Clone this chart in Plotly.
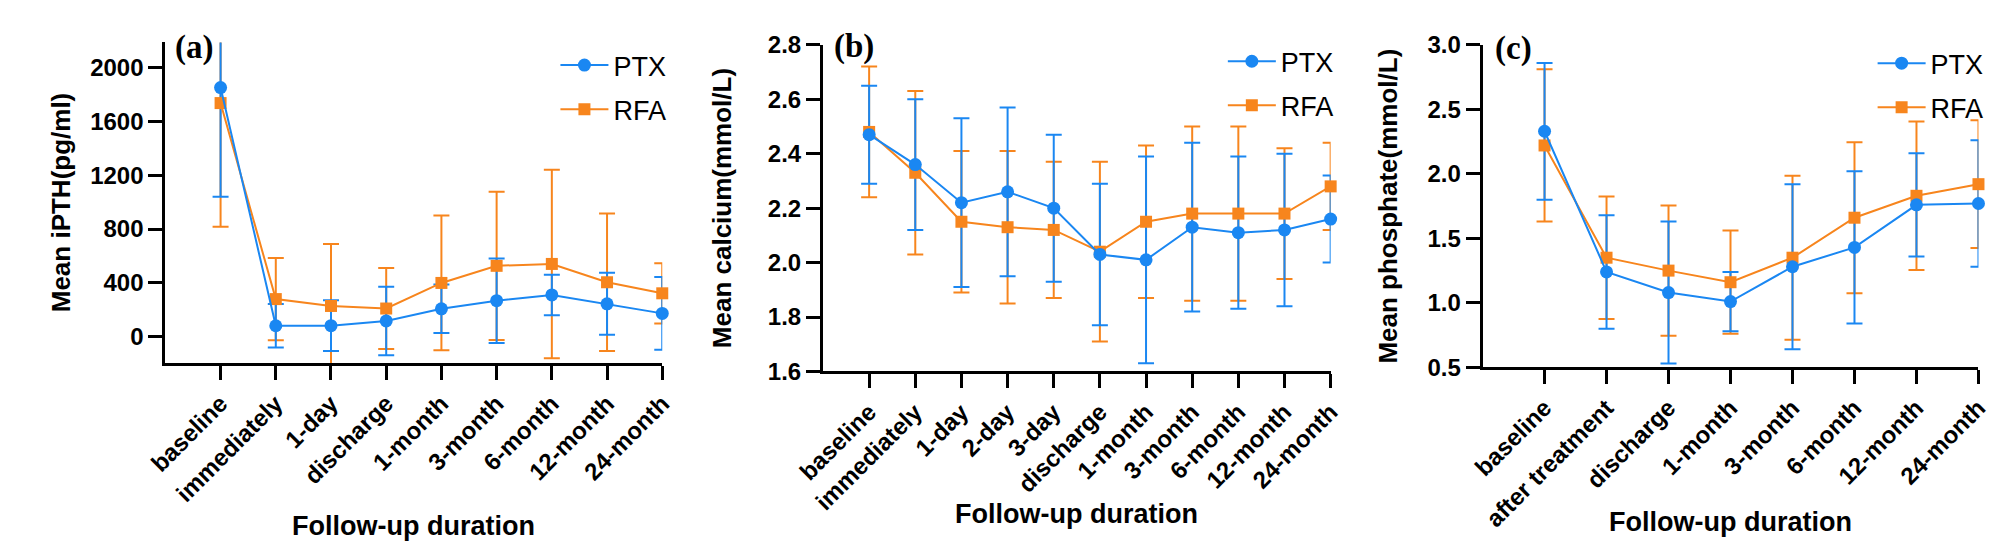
import plotly.graph_objects as go

# ---------------- data ----------------
cats_a = ["baseline", "immediately", "1-day", "discharge", "1-month", "3-month",
          "6-month", "12-month", "24-month"]
ptx_a = [1850, 82, 83, 118, 208, 268, 311, 245, 174]
ptx_a_sd = [810, 162, 188, 254, 180, 314, 150, 230, 270]
rfa_a = [1735, 280, 229, 210, 400, 527, 541, 405, 323]
rfa_a_sd = [918, 305, 460, 300, 500, 550, 700, 510, 224]
yticks_a = [0, 400, 800, 1200, 1600, 2000]

cats_b = ["baseline", "immediately", "1-day", "2-day", "3-day", "discharge",
          "1-month", "3-month", "6-month", "12-month", "24-month"]
ptx_b = [2.47, 2.36, 2.22, 2.26, 2.20, 2.03, 2.01, 2.13, 2.11, 2.12, 2.16]
ptx_b_sd = [0.18, 0.24, 0.31, 0.31, 0.27, 0.26, 0.38, 0.31, 0.28, 0.28, 0.16]
rfa_b = [2.48, 2.33, 2.15, 2.13, 2.12, 2.04, 2.15, 2.18, 2.18, 2.18, 2.28]
rfa_b_sd = [0.24, 0.30, 0.26, 0.28, 0.25, 0.33, 0.28, 0.32, 0.32, 0.24, 0.16]
yticks_b = [1.6, 1.8, 2.0, 2.2, 2.4, 2.6, 2.8]

cats_c = ["baseline", "after treatment", "discharge", "1-month", "3-month",
          "6-month", "12-month", "24-month"]
ptx_c = [2.33, 1.24, 1.08, 1.01, 1.28, 1.43, 1.76, 1.77]
ptx_c_sd = [0.53, 0.44, 0.55, 0.23, 0.64, 0.59, 0.40, 0.49]
rfa_c = [2.22, 1.35, 1.25, 1.16, 1.35, 1.66, 1.83, 1.92]
rfa_c_sd = [0.59, 0.475, 0.505, 0.40, 0.635, 0.585, 0.575, 0.495]
yticks_c = [0.5, 1.0, 1.5, 2.0, 2.5, 3.0]

# ---------------- style ----------------
W, H = 2005, 556
BLUE = "#1a87f2"
ORANGE = "#f7851d"
SANS = "Liberation Sans, Arial, sans-serif"
SERIF = "Liberation Serif, Times New Roman, serif"


def px(x):
    return x / W


def py(y):
    return 1 - y / H


panels = [
    dict(cats=cats_a, ptx=ptx_a, ptx_sd=ptx_a_sd, rfa=rfa_a, rfa_sd=rfa_a_sd,
         yticks=yticks_a, fmt="{:.0f}", yrange=[-195, 2185],
         xdom=(132, 639), ydom=(21.5, 358.5), ytitle="Mean iPTH(pg/ml)",
         ytx=25, xtx=385.5, xty=530, lab="(a)", labxy=(161, 27),
         leg=(530, 20)),
    dict(cats=cats_b, ptx=ptx_b, ptx_sd=ptx_b_sd, rfa=rfa_b, rfa_sd=rfa_b_sd,
         yticks=yticks_b, fmt="{:.1f}", yrange=[1.6, 2.8],
         xdom=(803, 1321), ydom=(24, 367.3), ytitle="Mean calcium(mmol/L)",
         ytx=700, xtx=1062, xty=517, lab="(b)", labxy=(835, 26),
         leg=(1211, 16)),
    dict(cats=cats_c, ptx=ptx_c, ptx_sd=ptx_c_sd, rfa=rfa_c, rfa_sd=rfa_c_sd,
         yticks=yticks_c, fmt="{:.1f}", yrange=[0.5, 3.0],
         xdom=(1476, 1982), ydom=(24, 363), ytitle="Mean phosphate(mmol/L)",
         ytx=1380, xtx=1729, xty=525, lab="(c)", labxy=(1508, 28),
         leg=(1874, 18)),
]

fig = go.Figure()
annotations = []
layout = {}

for i, p in enumerate(panels):
    sfx = "" if i == 0 else str(i + 1)
    xa, ya = "x" + sfx, "y" + sfx
    legname = "legend" + sfx
    xs = list(range(len(p["cats"])))

    # error bars (clipped to the plotting area)
    for vals, sd, col in [(p["rfa"], p["rfa_sd"], ORANGE), (p["ptx"], p["ptx_sd"], BLUE)]:
        fig.add_trace(go.Scatter(
            x=xs, y=vals, mode="markers", marker=dict(size=2, color=col, opacity=0),
            error_y=dict(type="data", array=sd, visible=True, color=col,
                         thickness=2, width=8),
            xaxis=xa, yaxis=ya, showlegend=False, hoverinfo="skip",
            cliponaxis=True))

    # lines + markers
    fig.add_trace(go.Scatter(
        x=xs, y=p["rfa"], mode="lines+markers", name="RFA",
        line=dict(color=ORANGE, width=2),
        marker=dict(symbol="square", size=12, color=ORANGE),
        xaxis=xa, yaxis=ya, legend=legname, legendgroup="rfa" + sfx,
        legendrank=2, cliponaxis=False))
    fig.add_trace(go.Scatter(
        x=xs, y=p["ptx"], mode="lines+markers", name="PTX",
        line=dict(color=BLUE, width=2),
        marker=dict(symbol="circle", size=13, color=BLUE),
        xaxis=xa, yaxis=ya, legend=legname, legendgroup="ptx" + sfx,
        legendrank=1, cliponaxis=False))

    x0, x1 = p["xdom"]
    y0, y1 = p["ydom"]
    common = dict(showline=True, linecolor="black", linewidth=3, ticks="outside",
                  ticklen=14, tickwidth=3, tickcolor="black", showgrid=False,
                  zeroline=False,
                  tickfont=dict(family=SANS, size=24, color="black", weight="bold"))
    layout["xaxis" + sfx] = dict(
        domain=[px(x0), px(x1)], range=[-1, len(xs) - 1], tickmode="array",
        tickvals=xs, ticktext=p["cats"], tickangle=-45, anchor=ya, **common)
    layout["yaxis" + sfx] = dict(
        domain=[py(y1), py(y0)], range=p["yrange"], tickmode="array",
        tickvals=p["yticks"], ticktext=[p["fmt"].format(v) for v in p["yticks"]],
        anchor=xa, **common)
    lx, ly = p["leg"]
    layout[legname] = dict(
        x=px(lx), y=py(ly), xanchor="left", yanchor="top",
        font=dict(family=SANS, size=27, color="black"),
        bgcolor="rgba(0,0,0,0)", traceorder="grouped", tracegroupgap=6,
        itemwidth=48)

    annotations.append(dict(
        text="Follow-up duration", x=px(p["xtx"]), y=py(p["xty"]),
        xref="paper", yref="paper", showarrow=False, xanchor="center",
        yanchor="middle", font=dict(family=SANS, size=27, color="black", weight="bold")))
    annotations.append(dict(
        text=p["ytitle"], x=px(p["ytx"]), y=py((y0 + y1) / 2),
        xref="paper", yref="paper", showarrow=False, xanchor="center",
        yanchor="middle", textangle=-90,
        font=dict(family=SANS, size=26, color="black", weight="bold")))
    lxp, lyp = p["labxy"]
    annotations.append(dict(
        text=p["lab"], x=px(lxp), y=py(lyp), xref="paper", yref="paper",
        showarrow=False, xanchor="center", yanchor="middle",
        font=dict(family=SERIF, size=33, color="black", weight="bold")))

fig.update_layout(
    width=W, height=H, margin=dict(l=0, r=0, t=0, b=0),
    paper_bgcolor="white", plot_bgcolor="white",
    annotations=annotations, **layout)

fig.write_html("out.html")
